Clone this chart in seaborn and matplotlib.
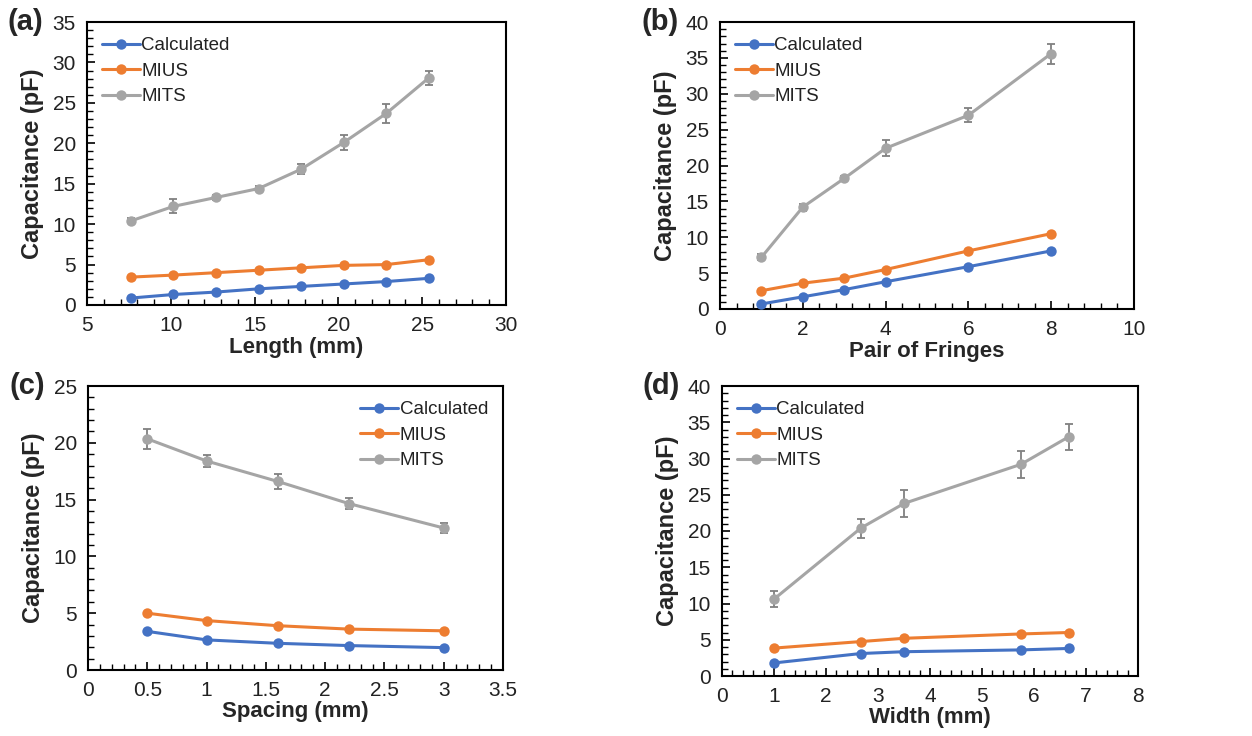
import numpy as np
import pandas as pd
import matplotlib
matplotlib.use("Agg")
import matplotlib.pyplot as plt
from matplotlib.ticker import MultipleLocator, FuncFormatter
import seaborn as sns

sns.set_theme(style="white")
plt.rcParams["font.family"] = ["Liberation Sans", "DejaVu Sans"]

series_names = ["Calculated", "MIUS", "MITS"]
colors = ["#4472C4", "#ED7D31", "#A5A5A5"]

# (a) capacitance vs. length
length_mm = [7.62, 10.16, 12.7, 15.24, 17.78, 20.32, 22.86, 25.4]
a_calc = [0.86, 1.3, 1.6, 2.0, 2.3, 2.6, 2.9, 3.3]
a_mius = [3.45, 3.7, 4.0, 4.3, 4.6, 4.9, 5.0, 5.6]
a_mits = [10.4, 12.2, 13.3, 14.4, 16.8, 20.1, 23.7, 28.1]
a_mits_err = [0.3, 0.85, 0.3, 0.3, 0.6, 0.9, 1.2, 0.9]

# (b) capacitance vs. number of fringe pairs
fringes = [1, 2, 3, 4, 6, 8]
b_calc = [0.7, 1.7, 2.7, 3.8, 5.9, 8.1]
b_mius = [2.55, 3.6, 4.3, 5.5, 8.1, 10.5]
b_mits = [7.2, 14.2, 18.2, 22.4, 27.0, 35.6]
b_mits_err = [0.4, 0.5, 0.4, 1.1, 1.0, 1.4]

# (c) capacitance vs. spacing
spacing_mm = [0.5, 1.0, 1.6, 2.2, 3.0]
c_calc = [3.4, 2.65, 2.35, 2.15, 1.97]
c_mius = [5.0, 4.35, 3.9, 3.6, 3.45]
c_mits = [20.35, 18.4, 16.6, 14.65, 12.5]
c_mits_err = [0.9, 0.5, 0.65, 0.45, 0.4]

# (d) capacitance vs. width
width_mm = [1.0, 2.67, 3.5, 5.75, 6.67]
d_calc = [1.8, 3.1, 3.35, 3.6, 3.8]
d_mius = [3.85, 4.75, 5.2, 5.8, 6.0]
d_mits = [10.6, 20.4, 23.8, 29.2, 33.0]
d_mits_err = [1.1, 1.3, 1.9, 1.9, 1.8]

panels = [
    dict(tag="(a)", x=length_mm, ys=[a_calc, a_mius, a_mits], err=a_mits_err,
         xlabel="Length (mm)", xlim=(5, 30), xmaj=5, xmin=1, ylim=(0, 35),
         legend="upper left",
         rect=[87 / 1252, 1 - 305 / 736, 419 / 1252, 283 / 736]),
    dict(tag="(b)", x=fringes, ys=[b_calc, b_mius, b_mits], err=b_mits_err,
         xlabel="Pair of Fringes", xlim=(0, 10), xmaj=2, xmin=0.4, ylim=(0, 40),
         legend="upper left",
         rect=[720 / 1252, 1 - 309 / 736, 414 / 1252, 287 / 736]),
    dict(tag="(c)", x=spacing_mm, ys=[c_calc, c_mius, c_mits], err=c_mits_err,
         xlabel="Spacing (mm)", xlim=(0, 3.5), xmaj=0.5, xmin=0.1, ylim=(0, 25),
         legend="upper right",
         rect=[88 / 1252, 1 - 670 / 736, 415 / 1252, 284 / 736]),
    dict(tag="(d)", x=width_mm, ys=[d_calc, d_mius, d_mits], err=d_mits_err,
         xlabel="Width (mm)", xlim=(0, 8), xmaj=1, xmin=0.2, ylim=(0, 40),
         legend="upper left",
         rect=[722 / 1252, 1 - 676 / 736, 416 / 1252, 290 / 736]),
]

fig = plt.figure(figsize=(12.52, 7.36), dpi=100)

for p in panels:
    ax = fig.add_axes(p["rect"])
    frames = []
    for name, vals in zip(series_names, p["ys"]):
        frames.append(pd.DataFrame({"x": p["x"], "y": vals, "series": name}))
    df = pd.concat(frames, ignore_index=True)

    ax.errorbar(p["x"], p["ys"][2], yerr=p["err"], fmt="none",
                ecolor="#808080", elinewidth=1.3, capsize=3, capthick=1.3,
                zorder=2)
    sns.lineplot(data=df, x="x", y="y", hue="series", hue_order=series_names,
                 palette=colors, marker="o", markersize=7.5, markeredgewidth=0,
                 linewidth=2.2, sort=False, ax=ax, zorder=3)

    ax.set_xlim(*p["xlim"])
    ax.set_ylim(*p["ylim"])
    ax.xaxis.set_major_locator(MultipleLocator(p["xmaj"]))
    ax.xaxis.set_minor_locator(MultipleLocator(p["xmin"]))
    ax.yaxis.set_major_locator(MultipleLocator(5))
    ax.yaxis.set_minor_locator(MultipleLocator(1))
    ax.tick_params(axis="both", which="both", direction="in", color="black",
                   bottom=True, left=True, top=False, right=False)
    ax.tick_params(axis="both", which="major", length=6, width=1.2,
                   labelsize=15, pad=8, labelcolor="#222222")
    ax.tick_params(axis="both", which="minor", length=4, width=1.0)
    ax.xaxis.set_major_formatter(FuncFormatter(lambda v, _: f"{v:g}"))
    for s in ax.spines.values():
        s.set_visible(True)
        s.set_color("black")
        s.set_linewidth(1.5)

    ax.set_xlabel(p["xlabel"], fontsize=16, fontweight="bold", labelpad=1)
    ax.set_ylabel("Capacitance (pF)", fontsize=17, fontweight="bold", labelpad=6)

    leg = ax.legend(loc=p["legend"], frameon=False, fontsize=13.5,
                    handlelength=2.0, handletextpad=0.1, labelspacing=0.45,
                    borderaxespad=0.4)
    for t in leg.get_texts():
        t.set_color("#222222")

    ax.text(-0.19, 1.0, p["tag"], transform=ax.transAxes, fontsize=21,
            fontweight="bold", ha="left", va="center")

fig.savefig("out.png", dpi=100, facecolor="white")
